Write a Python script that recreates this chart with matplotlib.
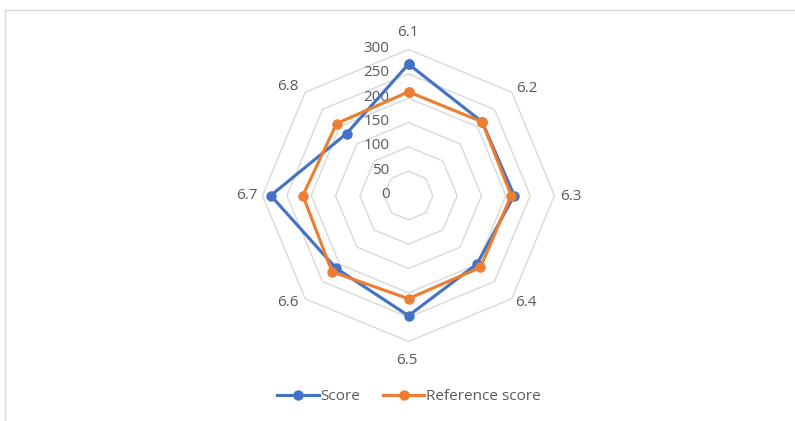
import numpy as np
import matplotlib
matplotlib.use("Agg")
import matplotlib.pyplot as plt
from matplotlib.lines import Line2D
from matplotlib.patches import Rectangle

categories = ["6.1", "6.2", "6.3", "6.4", "6.5", "6.6", "6.7", "6.8"]
score = [270, 214, 217, 199, 247, 211, 283, 180]
reference_score = [213, 214, 211, 209, 212, 222, 217, 209]
ring_values = [0, 50, 100, 150, 200, 250, 300]
series_names = ["Score", "Reference score"]

BLUE = "#4472C4"
ORANGE = "#ED7D31"
GRID = "#D9D9D9"
TEXT = "#595959"

plt.rcParams["font.family"] = ["Open Sans", "DejaVu Sans"]

W, H = 795, 421
DPI = 100
fig = plt.figure(figsize=(W / DPI, H / DPI), dpi=DPI)

# chart area frame (light gray)
fig.patches.append(Rectangle((5 / W, -0.1), 1.2, (H - 10) / H + 0.1,
                             transform=fig.transFigure, fill=False,
                             edgecolor=GRID, linewidth=1.0))

cx, cy, R = 408.5, H - 195.5, 146.0
ax = fig.add_axes([(cx - R) / W, (cy - R) / H, 2 * R / W, 2 * R / H],
                  projection="polar")
ax.set_theta_zero_location("N")
ax.set_theta_direction(-1)
ax.set_ylim(0, 300)
ax.grid(False)
ax.spines["polar"].set_visible(False)
ax.set_xticks([])
ax.set_yticks([])
ax.patch.set_alpha(0)

n = len(categories)
angles = np.arange(n) * 2 * np.pi / n
closed = np.append(angles, angles[0])

# octagonal grid rings
for v in ring_values[1:]:
    ax.plot(closed, [v] * (n + 1), color=GRID, linewidth=1.0, zorder=1,
            clip_on=False)

px = 72 / DPI  # points per pixel

# ring value labels, right-aligned left of the vertical axis
for v in ring_values:
    ax.annotate(str(v), xy=(0, v), xytext=(-19 * px, 1 * px),
                textcoords="offset points", ha="right", va="center",
                fontsize=11, color=TEXT, annotation_clip=False)

# category labels around the outside (pixel offsets from the centre)
label_offsets = [(-1, 162.5), (118, 107.5), (162.5, -0.5), (117.5, -107.5),
                 (-1.5, -164.5), (-120.5, -107.5), (-161.5, 0), (-120.5, 108.5)]
for lab, (dx, dy) in zip(categories, label_offsets):
    ax.annotate(lab, xy=(0, 0), xytext=(dx * px, dy * px),
                textcoords="offset points", ha="center", va="center",
                fontsize=11, color=TEXT, annotation_clip=False)

for vals, col in [(score, BLUE), (reference_score, ORANGE)]:
    ax.plot(closed, list(vals) + [vals[0]], color=col, linewidth=2.25,
            marker="o", markersize=6.5, zorder=3, clip_on=False)

handles = [Line2D([], [], color=BLUE, linewidth=2.25, marker="o", markersize=6.5),
           Line2D([], [], color=ORANGE, linewidth=2.25, marker="o", markersize=6.5)]
leg = fig.legend(handles, series_names, loc="center", ncol=2,
                 bbox_to_anchor=(409 / W, 1 - 397 / H), frameon=False,
                 fontsize=11, handlelength=2.7, handletextpad=0.1,
                 columnspacing=1.5)
for t in leg.get_texts():
    t.set_color(TEXT)

fig.savefig("out.png", dpi=DPI)
